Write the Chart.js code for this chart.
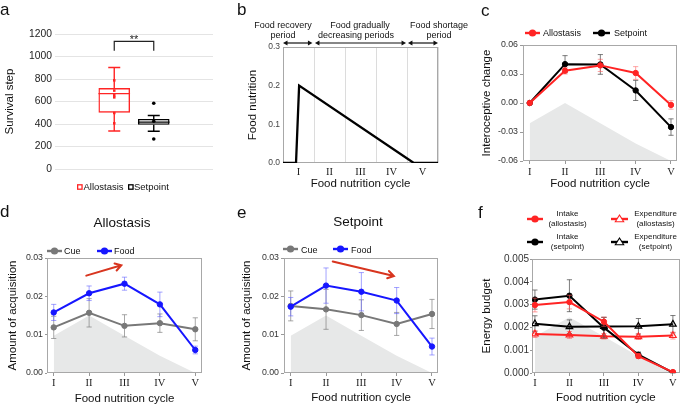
<!DOCTYPE html>
<html><head><meta charset="utf-8">
<script src="https://cdn.jsdelivr.net/npm/chart.js@4.4.1/dist/chart.umd.min.js"></script>
<style>
html,body{margin:0;padding:0;background:#fff;}
#wrap{position:relative;width:685px;height:406px;overflow:hidden;font-family:"Liberation Sans",Arial,Helvetica,sans-serif;color:#111;}
canvas{position:absolute;}
.t{position:absolute;white-space:nowrap;line-height:1;}
</style></head><body><div id="wrap"></div>
<script>
// ---------- DATA ----------
const boxGroups = ['Allostasis', 'Setpoint'];
const boxQ1 = [501, 393];
const boxMedian = [670, 417];
const boxQ3 = [720, 445];
const boxMin = [338, 335];
const boxMax = [902, 476];
const allostasisPoints = [788, 697, 655, 637, 498, 406];
const setpointPoints = [585, 424, 267];

const cycles = ['I', 'II', 'III', 'IV', 'V'];
const foodProfileX = [0, 0.42, 0.52, 4.22, 5];
const foodProfileY = [0, 0, 0.2, 0, 0];

const interoAllostasis = [0.0000, 0.0334, 0.0389, 0.0310, -0.0020];
const interoAllostasisErr = [0.0004, 0.0034, 0.0063, 0.0066, 0.0044];
const interoSetpoint = [0.0000, 0.0402, 0.0399, 0.0130, -0.0249];
const interoSetpointErr = [0.0004, 0.0088, 0.0102, 0.0104, 0.0085];
const interoFoodShade = [-0.021, 0.000, -0.021, -0.042, -0.060];

const alloCue = [0.0119, 0.0157, 0.0123, 0.0130, 0.0114];
const alloCueErr = [0.0029, 0.0037, 0.0029, 0.0024, 0.0030];
const alloFood = [0.0158, 0.0208, 0.0233, 0.0179, 0.0060];
const alloFoodErr = [0.0021, 0.0019, 0.0017, 0.0032, 0.0010];
const setCue = [0.0175, 0.0166, 0.0151, 0.0128, 0.0154];
const setCueErr = [0.0039, 0.0052, 0.0040, 0.0030, 0.0038];
const setFood = [0.0173, 0.0228, 0.0212, 0.0189, 0.0069];
const setFoodErr = [0.0024, 0.0046, 0.0050, 0.0034, 0.0022];
const acqFoodShade = [0.0097, 0.0150, 0.0097, 0.0045, 0.0000];

const intakeAllo = [0.00298, 0.00311, 0.00225, 0.00074, 0.00004];
const intakeAlloErr = [0.00030, 0.00030, 0.00020, 0.00010, 0.00002];
const intakeSet = [0.00322, 0.00339, 0.00199, 0.00080, 0.00002];
const intakeSetErr = [0.00042, 0.00070, 0.00045, 0.00012, 0.00002];
const expendAllo = [0.00171, 0.00167, 0.00161, 0.00159, 0.00164];
const expendAlloErr = [0.00015, 0.00015, 0.00012, 0.00012, 0.00015];
const expendSet = [0.00216, 0.00203, 0.00204, 0.00205, 0.00214];
const expendSetErr = [0.00035, 0.00030, 0.00040, 0.00034, 0.00038];
const energyFoodShade = [0.00160, 0.00245, 0.00160, 0.00074, 0.00000];

// ---------- SETUP ----------
const SANS = '"Liberation Sans", Arial, Helvetica, sans-serif';
const SERIF = '"Liberation Serif", "Times New Roman", serif';
const RED = '#ff2424', BLUE = '#1616ff', GREY = '#787878', BLACK = '#000';
Chart.defaults.font.family = SANS;
Chart.defaults.color = '#333';
Chart.defaults.animation = false;
Chart.defaults.plugins.legend.display = false;
Chart.defaults.plugins.tooltip.enabled = false;

const wrap = document.getElementById('wrap');
function mkCanvas(x, y, w, h) {
  const c = document.createElement('canvas');
  c.width = w; c.height = h;
  c.style.left = x + 'px'; c.style.top = y + 'px';
  c.style.width = w + 'px'; c.style.height = h + 'px';
  wrap.appendChild(c); return c;
}
function T(text, x, y, size, align, extra) {
  const d = document.createElement('div');
  d.className = 't'; d.textContent = text;
  d.style.left = x + 'px'; d.style.top = y + 'px'; d.style.fontSize = size + 'px';
  d.style.transform = align === 'left' ? 'translate(0,-50%)' : 'translate(-50%,-50%)';
  if (extra) Object.assign(d.style, extra);
  wrap.appendChild(d);
}
function marker(x, yc, w, color, shape) {
  const h = 10;
  let s = `<svg xmlns="http://www.w3.org/2000/svg" width="${w}" height="${h}" style="position:absolute;left:${x}px;top:${yc - h / 2}px;overflow:visible">`;
  if (shape === 'square') {
    s += `<rect x="0.65" y="${h / 2 - 2.2}" width="4.4" height="4.4" fill="none" stroke="${color}" stroke-width="1.3"/>`;
  } else {
    s += `<line x1="0" y1="5" x2="${w}" y2="5" stroke="${color}" stroke-width="2.4"/>`;
    if (shape === 'tri') s += `<polygon points="${w / 2},1.0 ${w / 2 + 4.2},7.8 ${w / 2 - 4.2},7.8" fill="#fff" stroke="${color}" stroke-width="1.1"/>`;
    else s += `<circle cx="${w / 2}" cy="5" r="3.6" fill="${color}"/>`;
  }
  s += '</svg>';
  wrap.insertAdjacentHTML('beforeend', s);
}

// ---------- PLUGINS ----------
function drawFrame(chart, opts) {
  const { ctx, chartArea: a } = chart;
  ctx.save();
  ctx.strokeStyle = (opts && opts.color) || '#aaa';
  ctx.lineWidth = 1;
  ctx.strokeRect(Math.round(a.left) + 0.5, Math.round(a.top) + 0.5, Math.round(a.right - a.left) - 1, Math.round(a.bottom - a.top) - 1);
  ctx.restore();
}
const frame = {
  id: 'frame',
  beforeDatasetsDraw(chart, args, opts) { if (!opts.afterShade) drawFrame(chart, opts); },
  afterDatasetDraw(chart, args, opts) {
    if (opts.afterShade && chart.data.datasets[args.index].isShade) drawFrame(chart, opts);
  }
};
const errBars = {
  id: 'errBars',
  beforeDatasetDraw(chart, args) {
    const ds = chart.data.datasets[args.index];
    if (!ds.errors) return;
    const ys = chart.scales.y, ctx = chart.ctx;
    ctx.save();
    ctx.strokeStyle = ds.errorColor; ctx.lineWidth = 1;
    args.meta.data.forEach((pt, i) => {
      const v = ds.data[i].y, e = ds.errors[i];
      if (!e) return;
      const y1 = ys.getPixelForValue(v + e), y2 = ys.getPixelForValue(v - e), x = pt.x, h = 2.6;
      ctx.beginPath();
      ctx.moveTo(x, y1); ctx.lineTo(x, y2);
      ctx.moveTo(x - h, y1); ctx.lineTo(x + h, y1);
      ctx.moveTo(x - h, y2); ctx.lineTo(x + h, y2);
      ctx.stroke();
    });
    ctx.restore();
  }
};
function arrowPlugin(from, to) {
  return {
    id: 'trendArrow',
    afterDatasetsDraw(chart) {
      const { ctx, scales: { x, y } } = chart;
      const x1 = x.getPixelForValue(from[0]), y1 = y.getPixelForValue(from[1]);
      const x2 = x.getPixelForValue(to[0]), y2 = y.getPixelForValue(to[1]);
      const ang = Math.atan2(y2 - y1, x2 - x1), L = 7;
      ctx.save();
      ctx.strokeStyle = '#d8351f'; ctx.lineWidth = 2; ctx.lineCap = 'round';
      ctx.beginPath(); ctx.moveTo(x1, y1); ctx.lineTo(x2, y2);
      ctx.moveTo(x2 - L * Math.cos(ang - 0.55), y2 - L * Math.sin(ang - 0.55));
      ctx.lineTo(x2, y2);
      ctx.lineTo(x2 - L * Math.cos(ang + 0.55), y2 - L * Math.sin(ang + 0.55));
      ctx.stroke();
      ctx.restore();
    }
  };
}

function lineDs(vals, errs, color, errColor, tri) {
  return {
    data: vals.map((y, x) => ({ x, y })), errors: errs, errorColor: errColor,
    borderColor: color, backgroundColor: color, borderWidth: 2, tension: 0, fill: false,
    pointStyle: tri ? 'triangle' : 'circle', pointRadius: tri ? 3.8 : 2.7,
    pointBackgroundColor: tri ? 'rgba(0,0,0,0)' : color, pointBorderColor: color,
    pointBorderWidth: tri ? 1.2 : 1
  };
}
function shadeDs(vals) {
  return { data: vals.map((y, x) => ({ x, y })), isShade: true, fill: 'start', backgroundColor: '#e7e8e8',
    borderWidth: 0, pointRadius: 0, tension: 0 };
}

function seriesChart(box, o) {
  const cv = mkCanvas(box.x, box.y, box.w, box.h);
  return new Chart(cv, {
    type: 'line',
    data: { datasets: o.datasets },
    options: {
      responsive: false,
      layout: { padding: o.pad },
      scales: {
        x: {
          type: 'linear', min: o.xmin, max: o.xmax,
          afterBuildTicks: s => { s.ticks = cycles.map((c, i) => ({ value: i })); },
          afterFit: s => { s.height = o.xh; },
          ticks: { callback: v => cycles[v] ?? '', font: { family: SERIF, size: 10.5 }, color: '#222', padding: o.xtp, maxRotation: 0, autoSkip: false },
          grid: { drawOnChartArea: false, tickLength: 3, color: '#999' },
          border: { display: false },
          title: { display: true, text: 'Food nutrition cycle', font: { size: 11.5 }, color: '#111', padding: { top: 0, bottom: o.xtb } }
        },
        y: {
          min: o.ymin, max: o.ymax,
          afterFit: s => { s.width = o.yw; },
          ticks: { stepSize: o.step, callback: v => v.toFixed(o.dec), font: { size: o.yfs }, color: '#333', padding: o.ytp },
          grid: { drawOnChartArea: false, tickLength: o.ytl, color: '#999' },
          border: { display: false },
          title: { display: true, text: o.ytitle, font: { size: 11.5 }, color: '#111', padding: { top: 4, bottom: 0 } }
        }
      },
      plugins: { frame: { afterShade: true, color: '#a8a8a8' } }
    },
    plugins: [frame, errBars].concat(o.plugins || [])
  });
}

// ---------- PANEL a ----------
const boxColors = [RED, BLACK];
const boxPlugin = {
  id: 'boxWhisk',
  afterDatasetDraw(chart, args) {
    const ds = chart.data.datasets[args.index];
    if (!ds.isBox) return;
    const ys = chart.scales.y, ctx = chart.ctx;
    args.meta.data.forEach((el, i) => {
      const g = i - 1;
      if (g < 0 || g >= boxGroups.length) return;
      const x = el.x, hw = el.width / 2, cap = 6;
      ctx.save(); ctx.strokeStyle = boxColors[g]; ctx.lineWidth = 1.4;
      const ym = ys.getPixelForValue(boxMedian[g]);
      const yq3 = ys.getPixelForValue(boxQ3[g]), yq1 = ys.getPixelForValue(boxQ1[g]);
      const ymax = ys.getPixelForValue(boxMax[g]), ymin = ys.getPixelForValue(boxMin[g]);
      ctx.beginPath();
      ctx.moveTo(x - hw, ym); ctx.lineTo(x + hw, ym);
      ctx.moveTo(x, yq3); ctx.lineTo(x, ymax);
      ctx.moveTo(x - cap, ymax); ctx.lineTo(x + cap, ymax);
      ctx.moveTo(x, yq1); ctx.lineTo(x, ymin);
      ctx.moveTo(x - cap, ymin); ctx.lineTo(x + cap, ymin);
      ctx.stroke(); ctx.restore();
    });
  },
  afterDraw(chart) {
    const { ctx, scales: { x, y } } = chart;
    const x1 = x.getPixelForValue(1), x2 = x.getPixelForValue(2);
    const yb = y.getPixelForValue(1052), yt = y.getPixelForValue(1135);
    ctx.save(); ctx.strokeStyle = '#222'; ctx.lineWidth = 1.2;
    ctx.beginPath(); ctx.moveTo(x1, yb); ctx.lineTo(x1, yt); ctx.lineTo(x2, yt); ctx.lineTo(x2, yb); ctx.stroke();
    ctx.fillStyle = '#222'; ctx.font = '11px ' + SANS; ctx.textAlign = 'center'; ctx.textBaseline = 'alphabetic';
    ctx.fillText('**', (x1 + x2) / 2, yt + 2);
    ctx.restore();
  }
};
new Chart(mkCanvas(0, 0, 228, 200), {
  type: 'bar',
  data: {
    labels: ['', ...boxGroups, ''],
    datasets: [
      { type: 'line', data: allostasisPoints.map(v => ({ x: 'Allostasis', y: v })), showLine: false,
        pointStyle: 'rect', pointRadius: 1.8, pointBackgroundColor: RED, pointBorderColor: RED, pointBorderWidth: 0 },
      { type: 'line', data: setpointPoints.map(v => ({ x: 'Setpoint', y: v })), showLine: false,
        pointStyle: 'circle', pointRadius: 1.8, pointBackgroundColor: BLACK, pointBorderColor: BLACK, pointBorderWidth: 0 },
      { type: 'bar', isBox: true, data: [null, [boxQ1[0], boxQ3[0]], [boxQ1[1], boxQ3[1]], null],
        backgroundColor: 'rgba(255,255,255,0)', borderColor: [BLACK, RED, BLACK, BLACK], borderWidth: 1.4,
        borderSkipped: false, barPercentage: 0.8, categoryPercentage: 1, grouped: false }
    ]
  },
  options: {
    responsive: false,
    layout: { padding: { left: 0, top: 34, right: 15, bottom: 31 } },
    scales: {
      x: { display: false },
      y: {
        min: 0, max: 1200,
        afterFit: s => { s.width = 55; },
        ticks: { stepSize: 200, callback: v => String(v), font: { size: 10.3 }, color: '#222', padding: 3 },
        grid: { color: '#e4e4e4', drawTicks: false },
        border: { display: false },
        title: { display: true, text: 'Survival step', font: { size: 11.5 }, color: '#111', padding: { top: 3, bottom: 0 } }
      }
    }
  },
  plugins: [boxPlugin]
});

// ---------- PANEL b ----------
const periodArrows = {
  id: 'periodArrows',
  afterDraw(chart) {
    const { ctx, scales: { x }, chartArea } = chart;
    const y = chartArea.top - 4;
    const spans = [[0.0, 0.95], [1.03, 3.97], [4.03, 5.0]];
    ctx.save(); ctx.strokeStyle = '#111'; ctx.fillStyle = '#111'; ctx.lineWidth = 1.2;
    spans.forEach(([a, b]) => {
      const xa = x.getPixelForValue(a), xb = x.getPixelForValue(b);
      ctx.beginPath(); ctx.moveTo(xa + 2, y); ctx.lineTo(xb - 2, y); ctx.stroke();
      ctx.beginPath(); ctx.moveTo(xa, y); ctx.lineTo(xa + 4.5, y - 2.6); ctx.lineTo(xa + 4.5, y + 2.6); ctx.closePath(); ctx.fill();
      ctx.beginPath(); ctx.moveTo(xb, y); ctx.lineTo(xb - 4.5, y - 2.6); ctx.lineTo(xb - 4.5, y + 2.6); ctx.closePath(); ctx.fill();
    });
    ctx.restore();
  }
};
new Chart(mkCanvas(238, 0, 212, 200), {
  type: 'line',
  data: { datasets: [{ data: foodProfileX.map((x, i) => ({ x, y: foodProfileY[i] })), borderColor: BLACK,
    borderWidth: 2.3, pointRadius: 0, tension: 0, fill: false }] },
  options: {
    responsive: false,
    layout: { padding: { left: 4, top: 47, right: 12, bottom: 5 } },
    scales: {
      x: {
        type: 'linear', min: 0, max: 5,
        afterBuildTicks: s => { s.ticks = [0, 1, 2, 3, 4, 5].map(v => ({ value: v })); },
        afterFit: s => { s.height = 32; },
        ticks: { callback: v => cycles[v] ?? '', labelOffset: 15.5, font: { family: SERIF, size: 10.5 }, color: '#222', padding: 3, maxRotation: 0, autoSkip: false },
        grid: { color: '#dcdcdc', drawTicks: false },
        border: { display: false },
        title: { display: true, text: 'Food nutrition cycle', font: { size: 11.5 }, color: '#111', padding: { top: 0, bottom: 4 } }
      },
      y: {
        min: 0, max: 0.3,
        afterFit: s => { s.width = 41; },
        ticks: { stepSize: 0.1, callback: v => v.toFixed(1), font: { size: 8.5 }, color: '#444', padding: 3 },
        grid: { display: false, drawTicks: false },
        border: { display: false },
        title: { display: true, text: 'Food nutrition', font: { size: 11.5 }, color: '#111', padding: { top: 4, bottom: 0 } }
      }
    },
    plugins: { frame: { afterShade: false, color: '#a8a8a8' } }
  },
  plugins: [frame, periodArrows]
});

// ---------- PANEL c ----------
seriesChart({ x: 472, y: 0, w: 213, h: 200 }, {
  pad: { left: 4, top: 45, right: 8, bottom: 5 }, yw: 47, xh: 34, xtp: 2, xtb: 4,
  xmin: -0.19, xmax: 4.17, ymin: -0.06, ymax: 0.06, step: 0.03, dec: 2, yfs: 8.8, ytp: 2, ytl: 3,
  ytitle: 'Interoceptive change',
  datasets: [
    lineDs(interoAllostasis, interoAllostasisErr, RED, 'rgba(255,90,90,0.55)'),
    lineDs(interoSetpoint, interoSetpointErr, BLACK, 'rgba(70,70,70,0.7)'),
    shadeDs(interoFoodShade)
  ]
});

// ---------- PANEL d ----------
seriesChart({ x: 0, y: 200, w: 215, h: 206 }, {
  pad: { left: 2, top: 58, right: 13, bottom: 0 }, yw: 45, xh: 33, xtp: 1, xtb: 0,
  xmin: -0.19, xmax: 4.19, ymin: 0, ymax: 0.03, step: 0.01, dec: 2, yfs: 8.8, ytp: 2, ytl: 2,
  ytitle: 'Amount of acquisition',
  datasets: [
    lineDs(alloFood, alloFoodErr, BLUE, 'rgba(100,100,255,0.6)'),
    lineDs(alloCue, alloCueErr, GREY, 'rgba(130,130,130,0.7)'),
    shadeDs(acqFoodShade)
  ],
  plugins: [arrowPlugin([0.92, 0.0254], [1.91, 0.0281])]
});

// ---------- PANEL e ----------
seriesChart({ x: 232, y: 200, w: 218, h: 206 }, {
  pad: { left: 4, top: 58, right: 12, bottom: 0 }, yw: 48, xh: 33, xtp: 1, xtb: 1,
  xmin: -0.19, xmax: 4.17, ymin: 0, ymax: 0.03, step: 0.01, dec: 2, yfs: 8.8, ytp: 2, ytl: 3,
  ytitle: 'Amount of acquisition',
  datasets: [
    lineDs(setFood, setFoodErr, BLUE, 'rgba(100,100,255,0.6)'),
    lineDs(setCue, setCueErr, GREY, 'rgba(130,130,130,0.7)'),
    shadeDs(acqFoodShade)
  ],
  plugins: [arrowPlugin([1.19, 0.0291], [2.92, 0.0253])]
});

// ---------- PANEL f ----------
seriesChart({ x: 472, y: 200, w: 213, h: 206 }, {
  pad: { left: 4, top: 59, right: 1, bottom: 0 }, yw: 56, xh: 33, xtp: 1, xtb: 1,
  xmin: -0.085, xmax: 4.2, ymin: 0, ymax: 0.005, step: 0.001, dec: 3, yfs: 10, ytp: 1, ytl: 2,
  ytitle: 'Energy budget',
  datasets: [
    lineDs(intakeAllo, intakeAlloErr, RED, 'rgba(255,90,90,0.6)'),
    lineDs(intakeSet, intakeSetErr, BLACK, 'rgba(70,70,70,0.7)'),
    lineDs(expendAllo, expendAlloErr, RED, 'rgba(255,90,90,0.6)', true),
    lineDs(expendSet, expendSetErr, BLACK, 'rgba(70,70,70,0.7)', true),
    shadeDs(energyFoodShade)
  ]
});

// ---------- TEXT & LEGENDS ----------
T('a', 0, 9, 17, 'left');
T('b', 237, 9, 17, 'left');
T('c', 481, 10, 17, 'left');
T('d', 0, 210.5, 17, 'left');
T('e', 237, 212, 17, 'left');
T('f', 478, 212, 17, 'left');

T('Food recovery', 283, 25, 9);
T('period', 283, 35, 9);
T('Food gradually', 360, 25, 9);
T('decreasing periods', 356, 35, 9);
T('Food shortage', 439, 25, 9);
T('period', 439, 35, 9);

T('Allostasis', 122, 223, 13.5);
T('Setpoint', 358, 222, 13.5);

// a legend
marker(77, 186.7, 6, RED, 'square');
T('Allostasis', 83.5, 187, 9.5, 'left');
marker(127.5, 186.7, 6, BLACK, 'square');
T('Setpoint', 134, 187, 9.5, 'left');

// c legend
marker(525, 32.7, 15, RED);
T('Allostasis', 543, 33, 9, 'left');
marker(593, 32.7, 17, BLACK);
T('Setpoint', 614, 33, 9, 'left');

// d legend
marker(47, 250.7, 15, GREY);
T('Cue', 64, 251, 9, 'left');
marker(97, 250.7, 15, BLUE);
T('Food', 114, 251, 9, 'left');

// e legend
marker(283, 249.3, 15, GREY);
T('Cue', 301, 249.6, 9, 'left');
marker(333, 249.3, 15, BLUE);
T('Food', 351, 249.6, 9, 'left');

// f legend
marker(527, 219.3, 16, RED);
T('Intake', 567.5, 214.3, 8);
T('(allostasis)', 567.5, 224.2, 8);
marker(611, 219.3, 17, RED, 'tri');
T('Expenditure', 655.5, 214.3, 8);
T('(allostasis)', 655.5, 224.2, 8);
marker(527, 241.7, 16, BLACK);
T('Intake', 567.5, 237.3, 8);
T('(setpoint)', 567.5, 247.3, 8);
marker(611, 241.7, 17, BLACK, 'tri');
T('Expenditure', 655.5, 237.3, 8);
T('(setpoint)', 655.5, 247.3, 8);
</script>
</body></html>
